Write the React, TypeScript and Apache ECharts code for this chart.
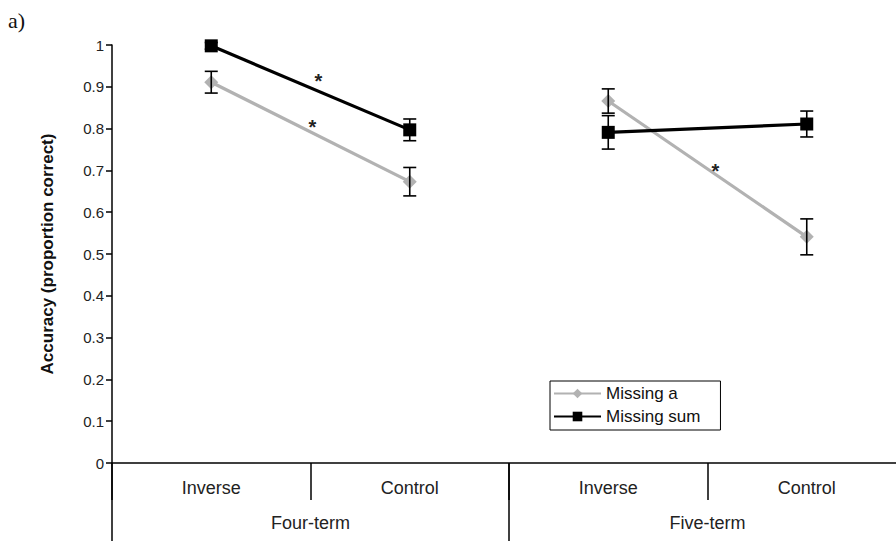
import React, { useEffect, useRef } from "react";
import * as echarts from "echarts";

const categories = ["Inverse", "Control", "Inverse", "Control"];
const groups = ["Four-term", "Five-term"];
const groupOfCategory = [0, 0, 1, 1];
const missingA = [0.911, 0.673, 0.866, 0.541];
const missingAErr = [0.026, 0.034, 0.029, 0.043];
const missingSum = [0.998, 0.797, 0.791, 0.811];
const missingSumErr = [0.008, 0.026, 0.04, 0.031];
const yTicks = { min: 0, max: 1, interval: 0.1 };
// asterisks: between category "from" and "to", at fraction t, at value
const asterisks = [
  { from: 0, to: 1, t: 0.54, value: 0.925 },
  { from: 0, to: 1, t: 0.51, value: 0.815 },
  { from: 2, to: 3, t: 0.54, value: 0.71 },
];

const GRAY = "#b2b2b2";
const BLACK = "#000000";
const FONT = "'Liberation Sans', Arial, sans-serif";

function lineSeries(name: string, values: number[], color: string, symbol: string, size: number, z: number) {
  return groups.map((_, g) => ({
    type: "line",
    name,
    xAxisIndex: 0,
    data: values.map((v, i) => (groupOfCategory[i] === g ? v : "-")),
    symbol,
    symbolSize: size,
    lineStyle: { color, width: 3.2 },
    itemStyle: { color, opacity: 1 },
    connectNulls: false,
    z,
  }));
}

function errorSeries(values: number[], errs: number[], z: number) {
  return {
    type: "custom",
    xAxisIndex: 0,
    z,
    silent: true,
    data: values.map((v, i) => [i, v, errs[i]]),
    renderItem: (params: any, api: any) => {
      const i = api.value(0);
      const v = api.value(1);
      const e = api.value(2);
      const top = api.coord([i, v + e]);
      const bot = api.coord([i, v - e]);
      const w = 6.5;
      const st = { stroke: BLACK, lineWidth: 1.6 };
      return {
        type: "group",
        children: [
          { type: "line", shape: { x1: top[0], y1: top[1], x2: bot[0], y2: bot[1] }, style: st },
          { type: "line", shape: { x1: top[0] - w, y1: top[1], x2: top[0] + w, y2: top[1] }, style: st },
          { type: "line", shape: { x1: bot[0] - w, y1: bot[1], x2: bot[0] + w, y2: bot[1] }, style: st },
        ],
      };
    },
  };
}

export default function App() {
  const ref = useRef<HTMLDivElement>(null);
  useEffect(() => {
    if (!ref.current) return;
    const chart = echarts.init(ref.current, null, { renderer: "svg" });
    const option: any = {
      animation: false,
      backgroundColor: "#ffffff",
      textStyle: { fontFamily: FONT },
      grid: { left: 112, top: 45, width: 794, height: 418, containLabel: false },
      graphic: [
        {
          type: "text",
          left: 8,
          top: 9,
          style: { text: "a)", font: "22px 'Liberation Serif', serif", fill: "#111" },
        },
      ],
      legend: {
        orient: "vertical",
        left: 550,
        top: 381,
        padding: [4, 20, 5, 3],
        itemGap: 6,
        itemWidth: 47,
        itemHeight: 12,
        borderColor: "#000",
        borderWidth: 1,
        borderRadius: 0,
        textStyle: { fontFamily: FONT, fontSize: 17, color: "#111" },
        data: ["Missing a", "Missing sum"],
      },
      xAxis: [
        {
          type: "category",
          data: categories,
          position: "bottom",
          boundaryGap: true,
          axisLine: { show: true, lineStyle: { color: "#000", width: 1.5 } },
          axisTick: { show: true, length: 37, interval: 0, lineStyle: { color: "#000", width: 1.5 } },
          axisLabel: { interval: 0, margin: 16, fontSize: 18, color: "#222", fontFamily: FONT },
          splitLine: { show: false },
        },
        {
          type: "category",
          data: groups,
          position: "bottom",
          boundaryGap: true,
          axisLine: { show: false },
          axisTick: { show: true, length: 80, interval: 0, lineStyle: { color: "#000", width: 1.5 } },
          axisLabel: { interval: 0, margin: 51, fontSize: 18, color: "#222", fontFamily: FONT },
          splitLine: { show: false },
        },
      ],
      yAxis: {
        type: "value",
        min: yTicks.min,
        max: yTicks.max,
        interval: yTicks.interval,
        name: "Accuracy (proportion correct)",
        nameLocation: "middle",
        nameGap: 56,
        nameRotate: 90,
        nameTextStyle: { fontFamily: FONT, fontSize: 17, fontWeight: "bold", color: "#111" },
        axisLine: { show: true, lineStyle: { color: "#000", width: 1.5 } },
        axisTick: { show: true, length: 6, lineStyle: { color: "#000", width: 1.5 } },
        axisLabel: {
          margin: 8,
          fontSize: 15,
          color: "#222",
          fontFamily: FONT,
          formatter: (v: number) => String(Math.round(v * 10) / 10),
        },
        splitLine: { show: false },
      },
      series: [
        ...lineSeries("Missing a", missingA, GRAY, "diamond", 14, 3),
        ...lineSeries("Missing sum", missingSum, BLACK, "rect", 13, 4),
        errorSeries(missingA, missingAErr, 5),
        errorSeries(missingSum, missingSumErr, 5),
        {
          type: "custom",
          xAxisIndex: 0,
          z: 6,
          silent: true,
          data: asterisks.map((a) => [a.from, a.to, a.t, a.value]),
          renderItem: (params: any, api: any) => {
            const p0 = api.coord([api.value(0), api.value(3)]);
            const p1 = api.coord([api.value(1), api.value(3)]);
            const t = api.value(2);
            return {
              type: "text",
              style: {
                text: "*",
                x: p0[0] + (p1[0] - p0[0]) * t,
                y: p0[1] + 5,
                align: "center",
                verticalAlign: "middle",
                font: "bold 20px 'Liberation Sans', Arial, sans-serif",
                fill: "#222",
              },
            };
          },
        },
      ],
    };
    chart.setOption(option);
    return () => chart.dispose();
  }, []);
  return (
    <div style={{ position: "absolute", left: 0, top: 0, width: 896, height: 541, overflow: "hidden", background: "#fff" }}>
      <div ref={ref} style={{ width: 920, height: 541 }} />
    </div>
  );
}
